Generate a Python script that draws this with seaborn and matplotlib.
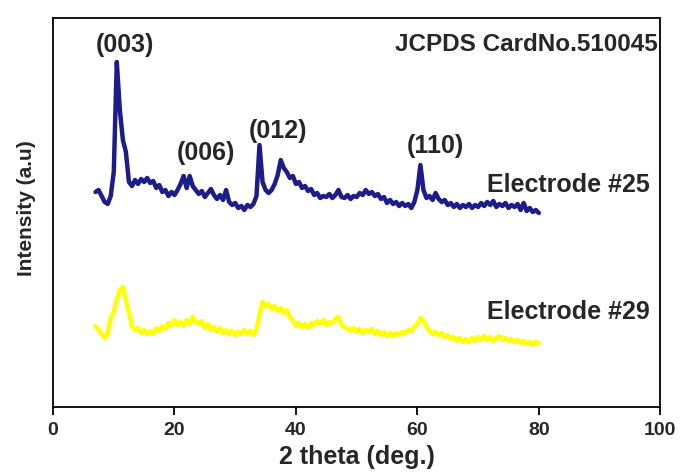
import numpy as np
import pandas as pd
import matplotlib
matplotlib.use("Agg")
import matplotlib.pyplot as plt
import seaborn as sns

two_theta = np.arange(7.0, 80.01, 0.5)

electrode_25 = [215, 217, 211, 205, 203, 211, 235, 345, 297, 267, 255, 225, 221, 227, 223, 228, 225, 229, 224, 226,
                219, 222, 215, 217, 211, 215, 212, 217, 223, 231, 219, 231, 221, 217, 213, 216, 210, 214, 218, 212,
                208, 212, 207, 217, 205, 202, 204, 199, 201, 197, 202, 200, 203, 211, 262, 225, 217, 214, 217, 223,
                232, 247, 239, 235, 229, 231, 223, 225, 219, 221, 216, 218, 212, 214, 209, 211, 210, 213, 209, 212,
                217, 210, 209, 212, 208, 211, 210, 214, 212, 217, 213, 215, 211, 213, 208, 210, 204, 207, 203, 205,
                201, 204, 201, 203, 199, 205, 217, 242, 217, 209, 211, 207, 214, 208, 205, 207, 202, 204, 200, 203,
                199, 202, 200, 203, 199, 202, 200, 204, 201, 205, 202, 206, 200, 203, 201, 204, 199, 202, 200, 203,
                197, 204, 196, 199, 195, 197, 194]

electrode_29 = [81, 77, 73, 69, 73, 89, 95, 107, 117, 120, 107, 95, 81, 77, 79, 74, 77, 73, 76, 73,
                79, 76, 81, 78, 84, 81, 87, 82, 85, 81, 87, 83, 90, 85, 83, 86, 79, 83, 77, 80,
                75, 79, 74, 77, 73, 76, 72, 75, 73, 77, 73, 76, 72, 77, 92, 105, 101, 103, 98, 101,
                96, 99, 94, 97, 89, 87, 81, 84, 80, 83, 79, 84, 82, 86, 83, 87, 82, 85, 84, 88,
                90, 82, 80, 78, 76, 79, 75, 78, 74, 77, 75, 78, 73, 76, 72, 75, 71, 74, 71, 74,
                72, 75, 74, 77, 76, 80, 83, 89, 87, 80, 76, 73, 75, 72, 74, 70, 72, 68, 70, 66,
                69, 65, 68, 65, 69, 66, 70, 67, 71, 67, 70, 66, 69, 71, 67, 69, 66, 68, 65, 67,
                64, 66, 63, 65, 62, 65, 64]

peak_labels = ["(003)", "(006)", "(012)", "(110)"]
peak_label_x = [11.9, 25.2, 37.1, 62.9]
peak_label_y = [362, 254, 276, 261]
series_names = ["Electrode #25", "Electrode #29"]
x_ticks = [0, 20, 40, 60, 80, 100]

df = pd.DataFrame({
    "two_theta": np.concatenate([two_theta, two_theta]),
    "intensity": np.concatenate([electrode_25, electrode_29]),
    "sample": [series_names[0]] * len(two_theta) + [series_names[1]] * len(two_theta),
})

sns.set_style("white")
plt.rcParams["font.family"] = ["Liberation Sans", "DejaVu Sans"]

fig = plt.figure(figsize=(6.8, 4.73), dpi=100)
ax = fig.add_axes([0.078, 0.1395, 0.893, 0.8225])

sns.lineplot(data=df, x="two_theta", y="intensity", hue="sample",
             palette={series_names[0]: "#1c1c8a", series_names[1]: "#ffff00"},
             linewidth=3.2, legend=False, ax=ax)

ax.set_xlim(0, 100)
ax.set_ylim(0, 389)
ax.set_xticks(x_ticks)
ax.set_xticklabels([str(t) for t in x_ticks], fontsize=14, fontweight="bold")
ax.set_yticks([])
ax.tick_params(axis="x", direction="out", length=6, width=1.3, color="black", pad=5, bottom=True)
for s in ax.spines.values():
    s.set_color("black")
    s.set_linewidth(1.3)

ax.set_xlabel("2 theta (deg.)", fontsize=18, fontweight="bold", labelpad=4)
ax.set_ylabel("Intensity (a.u)", fontsize=15, fontweight="bold")
ax.yaxis.set_label_coords(-0.028, 0.51)

for lab, lx, ly in zip(peak_labels, peak_label_x, peak_label_y):
    ax.text(lx, ly, lab, ha="center", va="center", fontsize=18, fontweight="bold")

ax.text(99.6, 362, "JCPDS CardNo.510045", ha="right", va="center", fontsize=17.5, fontweight="bold")
ax.text(84.8, 222, series_names[0], ha="center", va="center", fontsize=18, fontweight="bold")
ax.text(84.8, 95, series_names[1], ha="center", va="center", fontsize=18, fontweight="bold")

fig.savefig("out.png", dpi=100)
